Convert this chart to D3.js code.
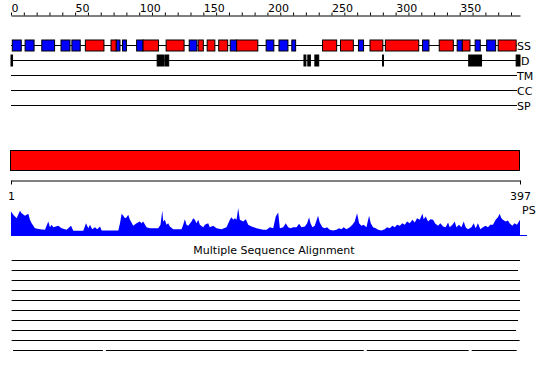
<!DOCTYPE html>
<html>
<head>
<meta charset="utf-8">
<script src="https://cdn.jsdelivr.net/npm/d3@7"></script>
<style>
body { margin: 0; background: #fff; }
svg text { font-family: "DejaVu Sans", sans-serif; font-size: 11px; }
</style>
</head>
<body>
<svg id="chart" width="550" height="380"></svg>
<script>
var seqLength = 397;
var axisTicks = d3.range(0, 391, 10);
var trackNames = ["SS", "D", "TM", "CC", "SP"];
// secondary structure, residue ranges
var ssStrand = [[1,8],[11,18],[24,34],[39,46],[47.5,54],[82,85],[87,90],[98,103],[139,145],[171,176],
  [199,205],[209,216],[219,222],[271,275],[321,326],[348,352],[362,366],[371,378]];
var ssHelix = [[58,72.5],[78,82],[103,115],[121,135],[146,150],[153,159],[162,169],[176,192.5],
  [243,254],[257,267],[280,290],[292,318],[334,345],[352,358],[380,394]];
var disorder = [[0,1.2],[114,119.5],[120.5,123],[228.5,230],[231.5,233.5],[237,240],[289.8,290.5],[357,367],[394,397]];
// PS profile: residue position, score
var psPos = [0,1.8,4.4,7,8.3,10.9,13.5,14.8,16.1,18.7,22.6,26.5,29.1,30.4,31.7,33,36.9,39.5,43.4,46.8,48.6,56.4,58.5,60.3,61.6,63.4,65.5,67.3,69.4,70.7,
  83.7,85,86.3,87.6,88.9,90.2,91.4,92.8,94,95.3,97.9,100.5,101.8,103.1,105.7,108.3,114.8,116.6,118,118.7,120,121.3,122.6,123.9,126.5,133,134.3,135.6,136.9,138.2,
  140.8,142.1,143.4,144.7,146,147.3,149.9,151.2,153.8,155.1,157.7,160.3,164.2,168.1,170.7,172,173.3,174.6,175.9,177.2,178.5,181.1,183.2,185,187.6,191.5,196.7,199.3,201.9,204.5,
  206.5,208.4,209.7,212.3,214.3,216.2,218,220.1,222.7,224.7,226.6,229.2,231,232.5,233.6,235.1,236.9,239.5,240.8,242.9,244.7,246.5,248.6,251.2,253.8,255.9,257.7,259.5,261.6,264.2,
  266.3,268.1,269.9,271.5,273.3,275.1,277.2,279.3,280.6,282.4,284.5,286.3,288.9,291.5,293.3,295.4,297.5,299.3,301.1,303.2,305.3,307.1,308.9,311,313.1,314.9,316.7,318.8,320.9,321.9,
  323.5,325.3,327.1,329.2,331,333.1,334.9,337,339,340.9,342.2,344.3,346.1,347.4,349.4,351.3,353.1,354.6,356.4,359.1,360.9,362.4,364.2,366.1,368.1,370.2,372,373.9,375.9,378,
  379.8,381.1,382.5,383.7,385.8,387.6,388.9,391,392.8,394.6,397];
var psVal = [24,20.7,17.3,24.7,22.3,19.7,21.7,15.7,12.3,7.3,6.3,5.7,14,8.3,10.7,8.3,9.7,7.3,5.7,9.7,4.7,4.7,12.3,7.3,10.7,6.3,8.3,6.3,9,5,
  5,12.3,21.7,19.7,17.3,18.3,20.7,15.7,13,9.7,12.3,14,12.3,14,8.3,7.3,7.3,10.7,25,14,15.7,10.7,12.3,9,6.3,6.3,10.7,16.3,10.7,9.7,
  14,17.3,15.7,12.3,15.7,10.7,8.3,10.7,12.3,8.3,9.7,7.3,6.3,8.3,15.7,18.3,15.7,17.3,15.7,27.3,15.7,14,16.3,10.7,9,7.3,5.7,5.7,8.3,7.3,
  19,23,7.3,8.3,12.3,8.3,7.3,8.3,8.3,11.7,8.3,9,12.3,18.3,12.3,8.3,9.7,19.7,13,8.3,7.3,8.3,5.7,5,5.7,7.3,6.3,8.3,6.3,8.3,
  10.7,14,22.3,12.3,9.7,10.7,8.3,19.7,12.3,8.3,7.3,5.7,5,6.3,8.3,7.3,9.7,8.3,10.7,9.7,12.3,10.7,14,12.3,15.7,13,17.3,15.7,21.7,16.3,
  19,14,16.3,15.7,11.7,9.7,12.3,9,8.3,13,8.3,10.7,14,8.3,10.7,8.3,14,8.3,6.3,8.3,12.3,7.3,12.3,6.3,8.3,9.7,8.3,10.7,10.7,15.7,
  18.3,21.7,17.3,15.7,14,15,12.3,9.7,12.3,10.7,15.7];
var msaTitle = "Multiple Sequence Alignment";
var msaRows = [
  [[0.5,397]], [[0.5,395.5]], [[0.5,397]], [[0.5,397]], [[0.5,397]],
  [[0.5,397]], [[0.5,395.5]], [[0.5,394]], [[0.5,396.7]],
  [[1.6,71.7],[74,275.1],[277.5,357],[359.3,394.4]]
];

var svg = d3.select("#chart");
svg.append("rect").attr("width", 550).attr("height", 380).attr("fill", "#fff");

var x = d3.scaleLinear().domain([0, seqLength]).range([11, 520]);
var xs = d3.scaleLinear().domain([1, seqLength]).range([11, 520]);

// top ruler
var topAxis = d3.axisTop(x).tickValues(axisTicks).tickSize(3).tickSizeOuter(0).tickPadding(1)
  .tickFormat(function(d) { return d % 50 === 0 ? d : ""; });
var gTop = svg.append("g").attr("transform", "translate(0,15.5)").call(topAxis);
gTop.selectAll("text").attr("text-anchor", "start").attr("font-size", 11).attr("font-family", "DejaVu Sans");
gTop.selectAll("path,line").attr("stroke", "#000");

// feature tracks
var ty = d3.scalePoint().domain(trackNames).range([45, 105]);
svg.selectAll(".track").data(trackNames).join("line")
  .attr("class", "track")
  .attr("x1", x(0)).attr("x2", 517)
  .attr("y1", function(d) { return ty(d) + 0.5; }).attr("y2", function(d) { return ty(d) + 0.5; })
  .attr("stroke", "#000");
svg.selectAll(".tlabel").data(trackNames).join("text")
  .attr("class", "tlabel")
  .attr("x", function(d) { return d === "D" ? 521 : 517; })
  .attr("y", function(d) { return ty(d) + 4.5; })
  .text(function(d) { return d; });

function boxes(data, track, color) {
  svg.append("g").selectAll("rect").data(data).join("rect")
    .attr("x", function(d) { return x(d[0]); })
    .attr("width", function(d) { return x(d[1]) - x(d[0]); })
    .attr("y", ty(track) - 5)
    .attr("height", 11)
    .attr("fill", color)
    .attr("stroke", "#000");
}
boxes(ssStrand, "SS", "#0000ff");
boxes(ssHelix, "SS", "#ff0000");
boxes(disorder, "D", "#000");

// full length bar
svg.append("rect")
  .attr("x", xs(1) - 0.5).attr("y", 150.5)
  .attr("width", xs(seqLength) - xs(1)).attr("height", 20)
  .attr("fill", "#ff0000").attr("stroke", "#000");

var bottomAxis = d3.axisBottom(xs).tickValues([1, seqLength]).tickSize(4).tickSizeOuter(0).tickPadding(8);
var gBot = svg.append("g").attr("transform", "translate(0,180.5)").call(bottomAxis);
gBot.selectAll("text").attr("font-size", 11).attr("font-family", "DejaVu Sans");

// PS profile
var psData = psPos.map(function(p, i) { return [p, psVal[i]]; });
var yPs = d3.scaleLinear().domain([0, 28]).range([235.5, 207.5]);
var psArea = d3.area()
  .x(function(d) { return x(d[0]); })
  .y0(yPs(0))
  .y1(function(d) { return yPs(d[1]); });
svg.append("path").datum(psData).attr("d", psArea).attr("fill", "#0000ff");
svg.append("line").attr("x1", x(0)).attr("x2", 527).attr("y1", 235.5).attr("y2", 235.5).attr("stroke", "#0000ff");
svg.append("text").attr("x", 522).attr("y", 214).text("PS");

// MSA
svg.append("text").attr("x", 274).attr("y", 254).attr("text-anchor", "middle").text(msaTitle);
msaRows.forEach(function(row, i) {
  svg.append("g").selectAll("line").data(row).join("line")
    .attr("x1", function(d) { return x(d[0]); })
    .attr("x2", function(d) { return x(d[1]); })
    .attr("y1", 260.5 + i * 10).attr("y2", 260.5 + i * 10)
    .attr("stroke", "#000");
});
</script>
</body>
</html>
